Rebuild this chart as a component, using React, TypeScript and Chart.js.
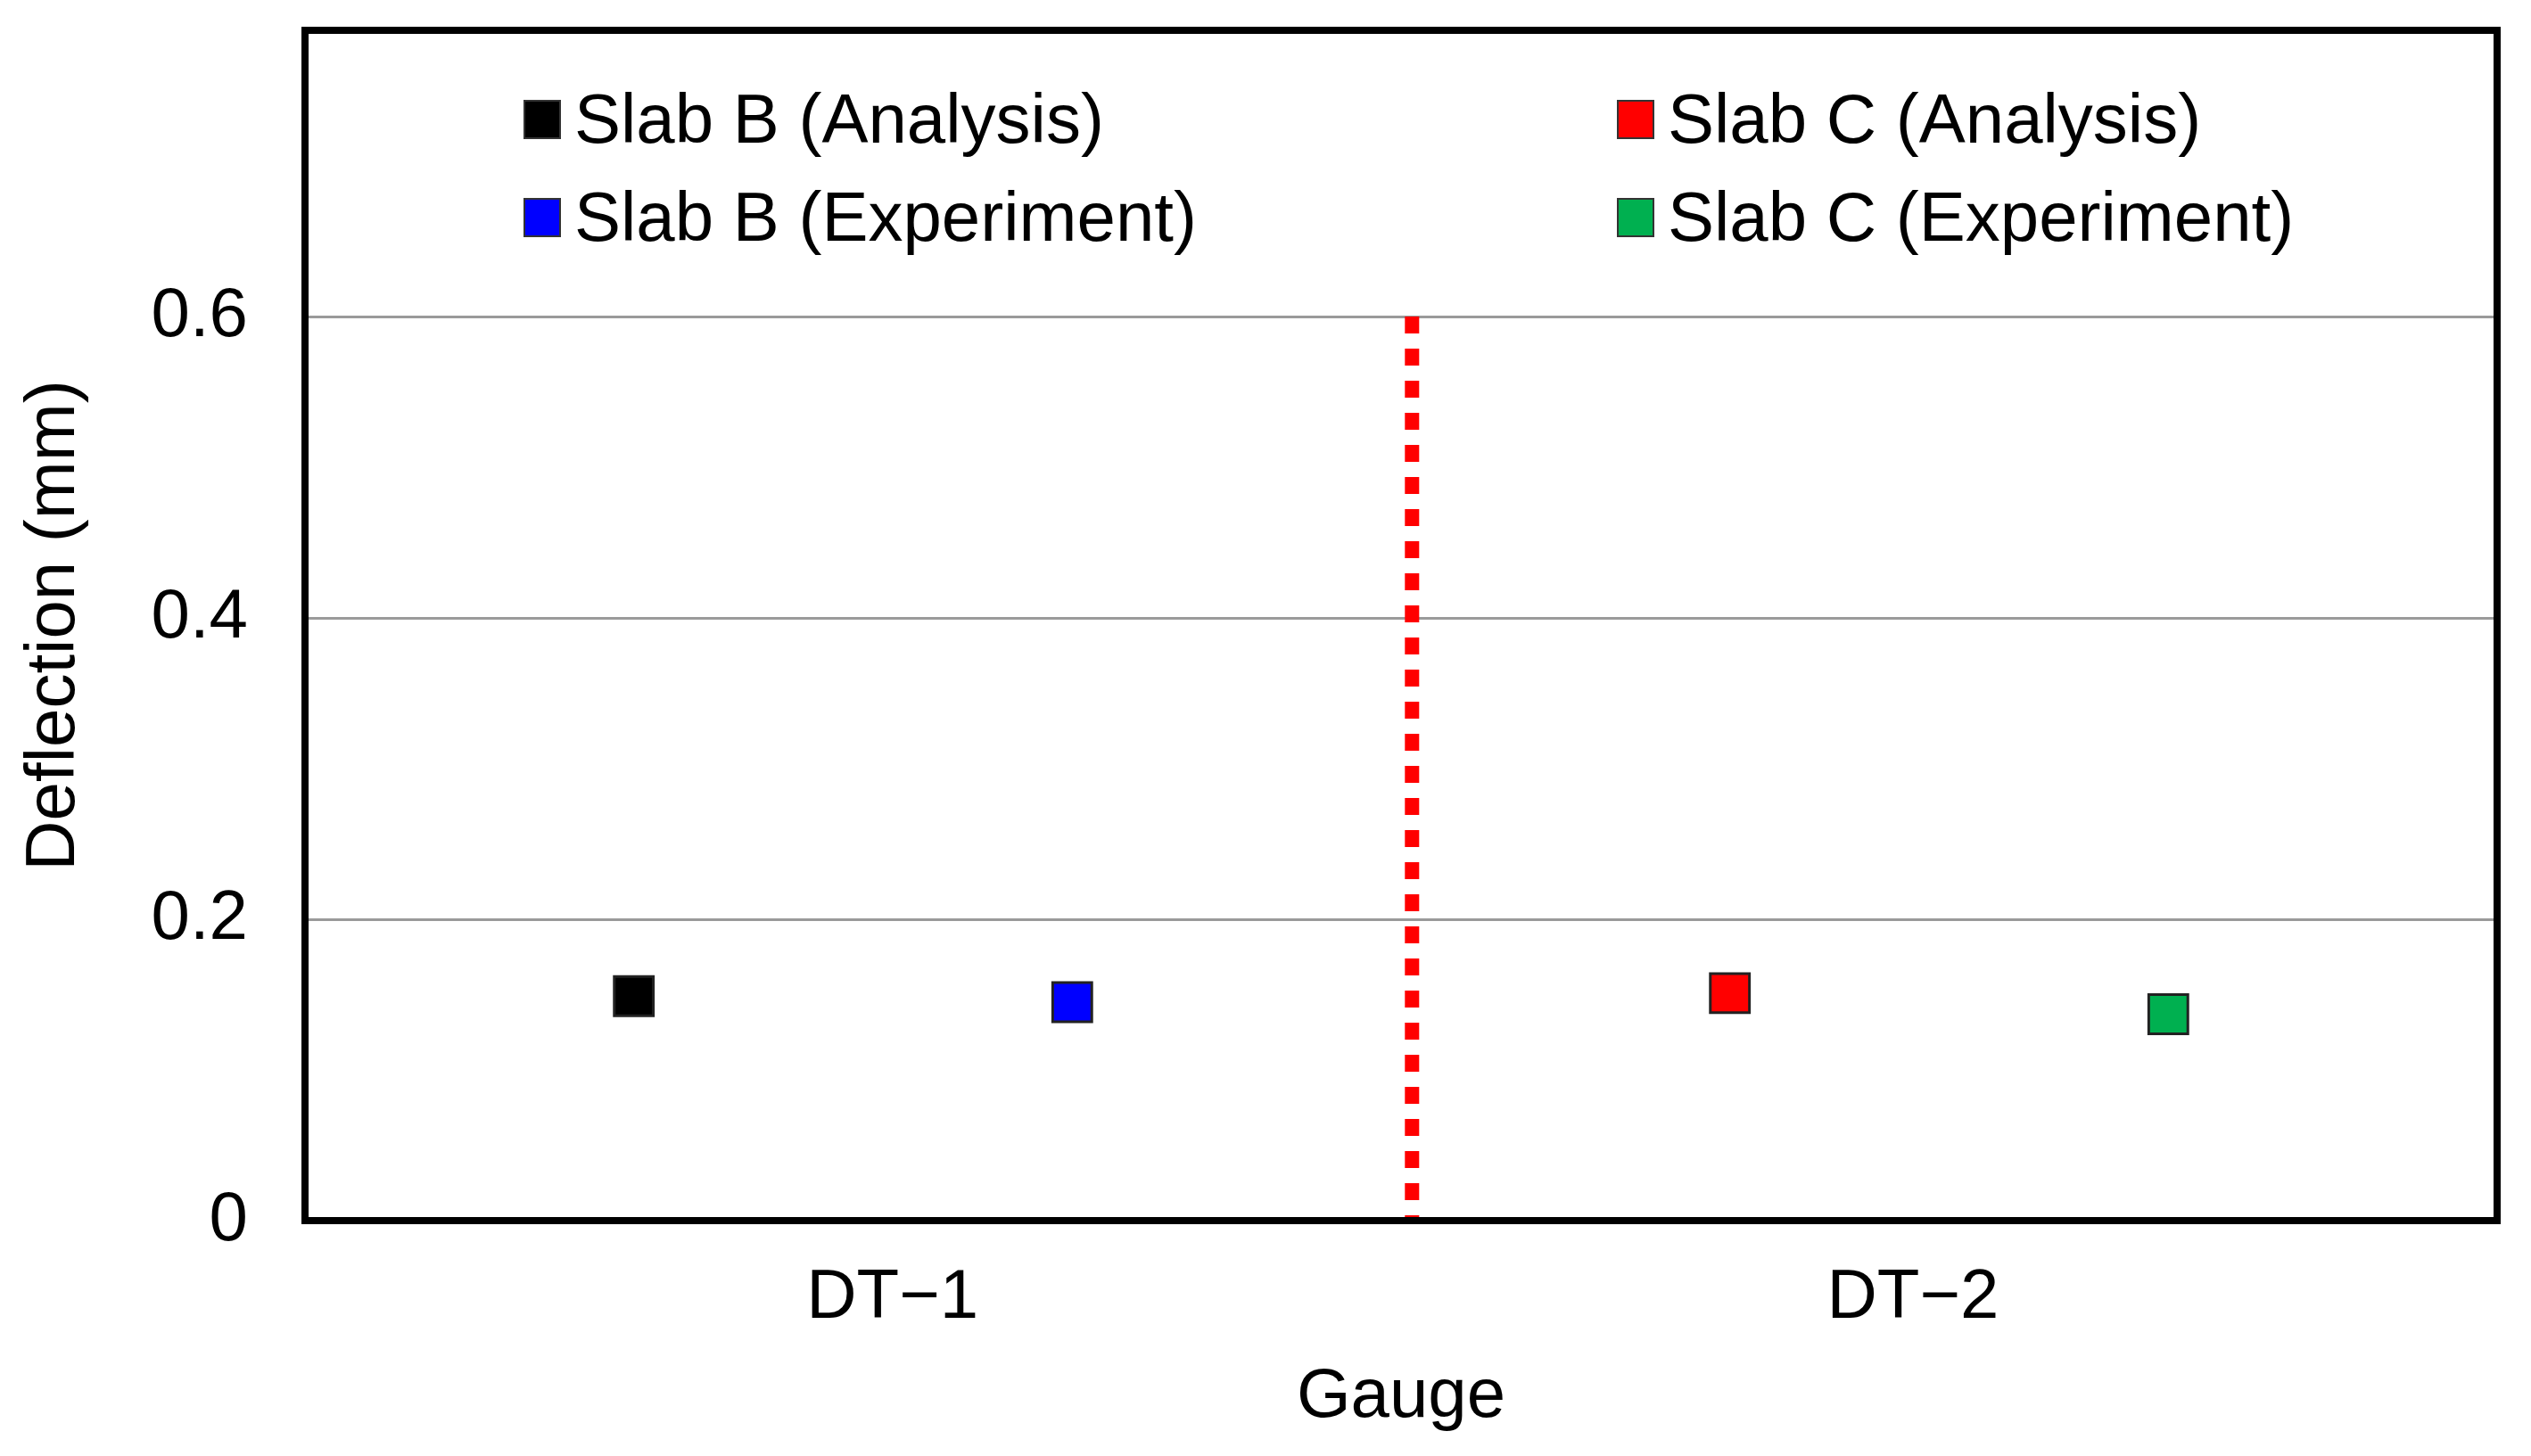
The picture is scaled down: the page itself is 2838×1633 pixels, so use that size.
import { useEffect, useRef } from 'react'
import { Chart, registerables } from 'chart.js'

Chart.register(...registerables)

// gauges on the x axis (label text + where the label sits on the 0..2 scale)
const GAUGE_LABELS = ['DT\u22121', 'DT\u22122']
const GAUGE_POS = [0.536, 1.467]

// one point per series
const SERIES_NAMES = ['Slab B (Analysis)', 'Slab B (Experiment)', 'Slab C (Analysis)', 'Slab C (Experiment)']
const SERIES_X = [0.3, 0.7, 1.3, 1.7]
const SERIES_Y = [0.149, 0.145, 0.151, 0.137]
const SERIES_COLORS = ['#000000', '#0000ff', '#ff0000', '#00b050']

// red dotted divider between the two gauges
const DIVIDER_X = 1.01
const DIVIDER_Y = [0.6, 0]

const FONT = 'Liberation Sans'

const framePlugin = {
  id: 'frame',
  afterDraw(chart: any) {
    const { ctx, chartArea: a } = chart
    ctx.save()
    ctx.strokeStyle = '#000'
    ctx.lineWidth = 8
    ctx.strokeRect(a.left, a.top, a.right - a.left, a.bottom - a.top)
    ctx.restore()
  },
}

// two-column legend sitting inside the plot box
const boxLegend = {
  id: 'boxLegend',
  afterDraw(chart: any) {
    const { ctx, chartArea: a } = chart
    const cols = [a.left + 246, a.left + 1472]
    const rows = [a.top + 79, a.top + 189]
    ctx.save()
    ctx.font = `78px "${FONT}"`
    ctx.textBaseline = 'alphabetic'
    ctx.fillStyle = '#000'
    SERIES_NAMES.forEach((name, i) => {
      const x = cols[Math.floor(i / 2)]
      const y = rows[i % 2]
      ctx.fillStyle = SERIES_COLORS[i]
      ctx.fillRect(x, y, 40, 42)
      ctx.strokeStyle = '#333'
      ctx.lineWidth = 2
      ctx.strokeRect(x, y, 40, 42)
      ctx.fillStyle = '#000'
      ctx.fillText(name, x + 56, y + 47)
    })
    ctx.restore()
  },
}

export default function App() {
  const canvasRef = useRef<HTMLCanvasElement>(null)

  useEffect(() => {
    if (!canvasRef.current) return

    const pointSets = SERIES_NAMES.map((name, i) => ({
      label: name,
      data: [{ x: SERIES_X[i], y: SERIES_Y[i] }],
      pointStyle: 'rect',
      pointRadius: 31,
      pointBackgroundColor: SERIES_COLORS[i],
      pointBorderColor: '#222',
      pointBorderWidth: 3,
      showLine: false,
    }))

    const chart = new Chart(canvasRef.current, {
      type: 'scatter',
      data: {
        datasets: [
          ...pointSets,
          {
            label: 'divider',
            data: DIVIDER_Y.map((y) => ({ x: DIVIDER_X, y })),
            showLine: true,
            borderColor: '#ff0000',
            borderWidth: 16,
            borderDash: [19, 17],
            borderCapStyle: 'butt',
            pointRadius: 0,
            clip: false,
          },
        ],
      } as any,
      options: {
        animation: false,
        responsive: true,
        maintainAspectRatio: false,
        layout: { padding: { top: 33, right: 38, left: 0, bottom: 0 } },
        plugins: { legend: { display: false }, tooltip: { enabled: false } },
        scales: {
          x: {
            type: 'linear',
            min: 0,
            max: 2,
            grid: { display: false },
            border: { display: false },
            afterFit: (s: any) => {
              s.height = 264
              s.paddingLeft = 0
              s.paddingRight = 0
            },
            afterBuildTicks: (s: any) => { s.ticks = GAUGE_POS.map((v) => ({ value: v })) },
            ticks: {
              padding: 33,
              color: '#000',
              font: { family: FONT, size: 78 },
              callback: (v: any) => GAUGE_LABELS[GAUGE_POS.indexOf(v)] ?? '',
            },
            title: {
              display: true,
              text: 'Gauge',
              color: '#000',
              font: { family: FONT, size: 78 },
              padding: { top: 0, bottom: 19 },
            },
          },
          y: {
            min: 0,
            max: 0.79,
            grid: { color: '#9a9a9a', lineWidth: 3, drawTicks: false },
            border: { display: false },
            afterFit: (s: any) => {
              s.width = 342
              s.paddingTop = 0
              s.paddingBottom = 0
            },
            ticks: {
              stepSize: 0.2,
              includeBounds: false,
              padding: 64,
              color: '#000',
              font: { family: FONT, size: 78 },
              callback: (v: any) => (v === 0 ? '0' : Number(v).toFixed(1)),
            },
            title: {
              display: true,
              text: 'Deflection (mm)',
              color: '#000',
              font: { family: FONT, size: 78 },
              padding: { top: 15, bottom: 0 },
            },
          },
        },
      },
      plugins: [framePlugin, boxLegend],
    })

    return () => { chart.destroy() }
  }, [])

  return (
    <div style={{ position: 'fixed', left: 0, top: 0, width: 2838, height: 1633, background: '#fff' }}>
      <canvas ref={canvasRef} />
    </div>
  )
}
